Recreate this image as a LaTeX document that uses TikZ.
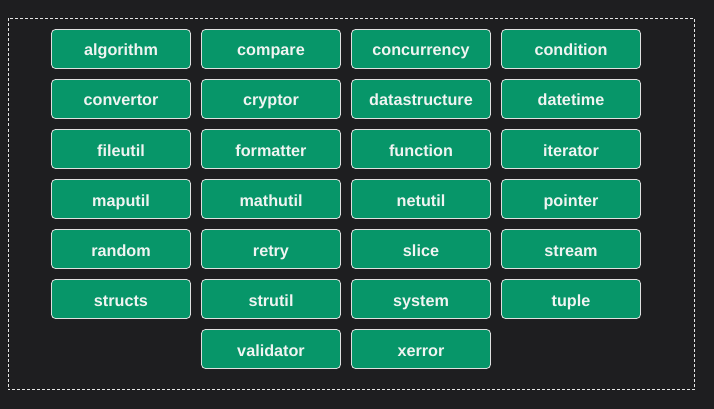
\documentclass[tikz,border=0pt]{standalone}
\usepackage{fontspec}
\setmainfont{Liberation Sans}
\definecolor{bgdark}{HTML}{1E1E20}
\definecolor{pkggreen}{HTML}{079669}
\definecolor{pkgtext}{HTML}{F0F4F2}
\tikzset{
	pkg/.style={draw=white!88!black, fill=pkggreen, line width=0.8pt, rounded corners=4pt,
		minimum width=139pt, minimum height=39pt, inner sep=0pt,
		text height=14.5pt, text depth=0.5pt,
		text=pkgtext, font=\fontsize{16.2}{19}\selectfont\bfseries},
	frame/.style={draw=white!90!black, dashed, line width=0.7pt, dash pattern=on 3pt off 2pt}
}
\begin{document}
\begin{tikzpicture}[x=1pt, y=-1pt]
	\fill [bgdark] (0, 0) rectangle (714, 409);
	\useasboundingbox (0, 0) rectangle (714, 409);
	
	% frame
	\coordinate (frameNW) at (8, 18.5);
	\coordinate (frameSE) at (694.5, 389.5);
	\draw [frame] (frameNW) rectangle (frameSE);
	
	% row 1
	\node [pkg] (algorithm) at (121, 49) {algorithm};
	\node [pkg] (compare) at (271, 49) {compare};
	\node [pkg] (concurrency) at (421, 49) {concurrency};
	\node [pkg] (condition) at (571, 49) {condition};
	
	% row 2
	\node [pkg] (convertor) at (121, 99) {convertor};
	\node [pkg] (cryptor) at (271, 99) {cryptor};
	\node [pkg] (datastructure) at (421, 99) {datastructure};
	\node [pkg] (datetime) at (571, 99) {datetime};
	
	% row 3
	\node [pkg] (fileutil) at (121, 149) {fileutil};
	\node [pkg] (formatter) at (271, 149) {formatter};
	\node [pkg] (function) at (421, 149) {function};
	\node [pkg] (iterator) at (571, 149) {iterator};
	
	% row 4
	\node [pkg] (maputil) at (121, 199) {maputil};
	\node [pkg] (mathutil) at (271, 199) {mathutil};
	\node [pkg] (netutil) at (421, 199) {netutil};
	\node [pkg] (pointer) at (571, 199) {pointer};
	
	% row 5
	\node [pkg] (random) at (121, 249) {random};
	\node [pkg] (retry) at (271, 249) {retry};
	\node [pkg] (slice) at (421, 249) {slice};
	\node [pkg] (stream) at (571, 249) {stream};
	
	% row 6
	\node [pkg] (structs) at (121, 299) {structs};
	\node [pkg] (strutil) at (271, 299) {strutil};
	\node [pkg] (system) at (421, 299) {system};
	\node [pkg] (tuple) at (571, 299) {tuple};
	
	% row 7
	\node [pkg] (validator) at (271, 349) {validator};
	\node [pkg] (xerror) at (421, 349) {xerror};
\end{tikzpicture}
\end{document}
